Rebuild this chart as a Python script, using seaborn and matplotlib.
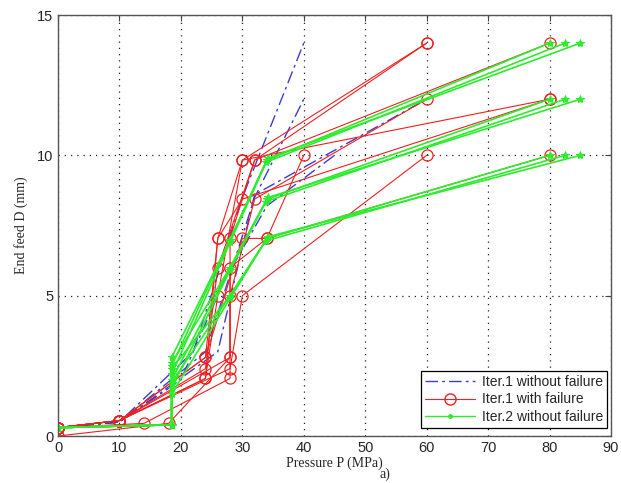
import matplotlib
matplotlib.use("Agg")
import matplotlib.pyplot as plt
import pandas as pd
import seaborn as sns
from matplotlib.lines import Line2D

# Iter.1 without failure (blue dash-dot)
BLUE_P = [[0, 10, 22, 30, 40],
          [0, 10, 24, 32, 40],
          [0, 10, 26, 32, 60],
          [0, 10, 20, 27, 34, 45]]
BLUE_D = [[0.3, 0.5, 3.0, 8.5, 14.0],
          [0.3, 0.5, 3.0, 8.5, 12.0],
          [0.3, 0.5, 3.0, 8.6, 12.0],
          [0.3, 0.5, 2.0, 5.5, 8.2, 10.0]]

# Iter.1 with failure (red, circles)
RED_P = [[0, 10, 24, 26, 30, 60],
         [0, 10, 24, 26, 32, 80],
         [0, 10, 24, 26, 30, 80],
         [0, 14, 28, 28, 32, 60],
         [0, 10, 28, 30, 60],
         [0, 18, 28, 28, 34, 40],
         [0, 10, 24, 30, 34, 80],
         [0, 10, 28, 28, 32, 60],
         [0, 10, 24, 26, 30, 80]]
RED_D = [[0.3, 0.55, 2.05, 5.0, 9.83, 14.0],
         [0.3, 0.55, 2.4, 6.0, 9.83, 14.0],
         [0.3, 0.55, 2.8, 7.04, 8.44, 12.0],
         [0.3, 0.45, 2.05, 5.0, 8.44, 12.0],
         [0.3, 0.55, 2.4, 5.0, 10.0],
         [0.0, 0.45, 2.8, 6.0, 7.04, 10.0],
         [0.3, 0.55, 2.8, 7.04, 7.04, 10.0],
         [0.3, 0.55, 2.8, 7.04, 9.83, 14.0],
         [0.3, 0.55, 2.05, 7.04, 9.83, 12.0]]

# Iter.2 without failure (green, stars)
GREEN_P = [[0, 18.5, 18.5, 28, 34.0, 80],
           [0, 18.5, 18.5, 28, 33.8, 82.5],
           [0, 18.5, 18.5, 28, 34.2, 85],
           [0, 18.5, 18.5, 28, 34.0, 80],
           [0, 18.5, 18.5, 28, 33.8, 82.5],
           [0, 18.5, 18.5, 28, 34.2, 85],
           [0, 18.5, 18.5, 28, 34.0, 80],
           [0, 18.5, 18.5, 28, 33.8, 82.5],
           [0, 18.5, 18.5, 28, 34.2, 85]]
GREEN_D = [[0.3, 0.4, 2.8, 7.0, 9.83, 14.0],
           [0.3, 0.4, 2.5, 7.0, 9.75, 14.0],
           [0.3, 0.4, 2.2, 6.9, 9.9, 14.0],
           [0.3, 0.4, 2.6, 6.0, 8.44, 12.0],
           [0.3, 0.4, 2.0, 6.0, 8.35, 12.0],
           [0.3, 0.4, 1.7, 5.9, 8.5, 12.0],
           [0.3, 0.4, 2.4, 5.0, 7.04, 10.0],
           [0.3, 0.4, 1.9, 5.0, 6.95, 10.0],
           [0.3, 0.4, 1.5, 4.9, 7.1, 10.0]]


def to_frame(ps, ds):
    rows = []
    for i, (p, d) in enumerate(zip(ps, ds)):
        for k, (x, y) in enumerate(zip(p, d)):
            rows.append({"P": x, "D": y, "path": i, "order": k})
    return pd.DataFrame(rows)


blue = to_frame(BLUE_P, BLUE_D)
red = to_frame(RED_P, RED_D)
green = to_frame(GREEN_P, GREEN_D)

sns.set_style("white")
plt.rcParams["font.family"] = ["Liberation Sans", "DejaVu Sans"]

fig = plt.figure(figsize=(6.21, 4.83), dpi=100)
ax = fig.add_axes([0.0934, 0.0973, 0.8905, 0.8716])

bcol = "#3c3cd0"
rcol = "#f02020"
gcol = "#2cec2c"

sns.lineplot(data=blue, x="P", y="D", units="path", estimator=None, sort=False,
             color=bcol, lw=1.0, linestyle=(0, (9, 3, 2, 3)), legend=False, ax=ax)
sns.lineplot(data=red, x="P", y="D", units="path", estimator=None, sort=False,
             color=rcol, lw=0.8, marker="o", markersize=8, markerfacecolor="none",
             markeredgecolor=rcol, markeredgewidth=0.9, legend=False, ax=ax)
sns.lineplot(data=green, x="P", y="D", units="path", estimator=None, sort=False,
             color=gcol, lw=1.2, marker="*", markersize=6, markeredgecolor=gcol,
             markerfacecolor=gcol, legend=False, ax=ax)

ax.set_xlim(0, 90)
ax.set_ylim(0, 15)
ax.set_xticks(range(0, 91, 10))
ax.set_yticks([0, 5, 10, 15])
ax.grid(True, linestyle=(0, (1, 4)), color="#222222", lw=0.9)
ax.tick_params(direction="in", top=True, right=True, labelsize=10.5, length=4,
               color="#444444")
for s in ax.spines.values():
    s.set_color("#555555")
    s.set_linewidth(1.0)

ax.set_xlabel("Pressure P (MPa)", family=["Liberation Serif"], fontsize=10, labelpad=1)
ax.set_ylabel("End feed D (mm)", family=["Liberation Serif"], fontsize=10, labelpad=6)

handles = [
    Line2D([], [], color=bcol, lw=1.0, linestyle=(0, (9, 3, 2, 3))),
    Line2D([], [], color=rcol, lw=0.8, marker="o", markersize=8,
           markerfacecolor="none", markeredgecolor=rcol),
    Line2D([], [], color=gcol, lw=1.0, marker=".", markersize=5),
]
labels = ["Iter.1 without failure", "Iter.1 with failure", "Iter.2 without failure"]
leg = ax.legend(handles, labels, loc="lower right", bbox_to_anchor=(0.993, 0.019),
                borderaxespad=0, fancybox=False, framealpha=1, edgecolor="black",
                fontsize=10, handlelength=3.6, labelspacing=0.25, borderpad=0.3,
                handletextpad=0.5)
leg.get_frame().set_linewidth(0.9)

fig.text(0.611, 0.004, "a)", family=["Liberation Serif"], fontsize=10, va="bottom")

fig.savefig("out.png", dpi=100)
